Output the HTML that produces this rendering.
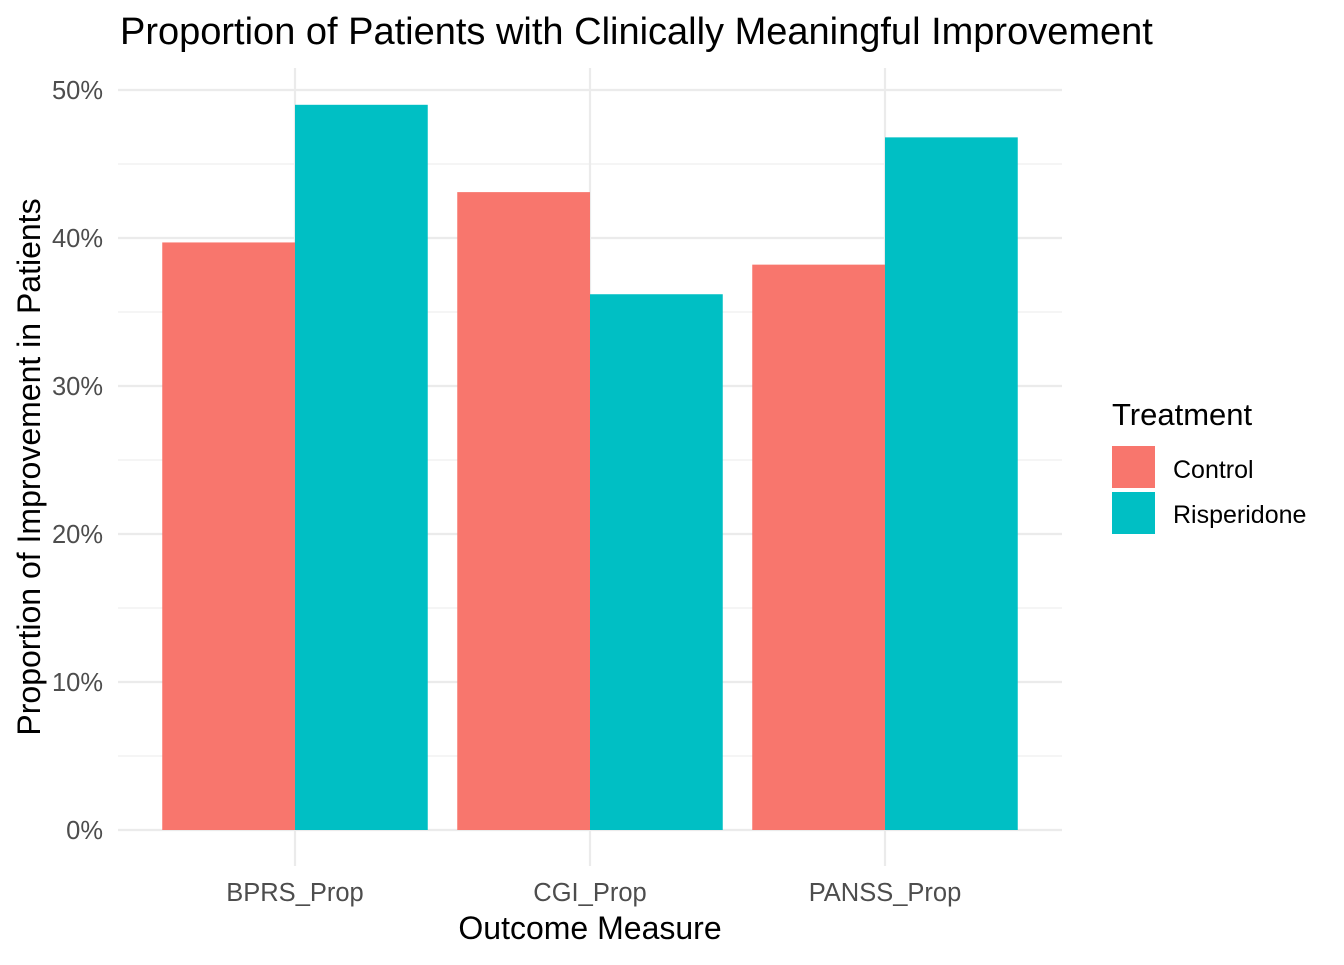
<!DOCTYPE html>
<html><head><meta charset="utf-8"><style>
body{margin:0;background:#fff;}
svg text{font-family:"Liberation Sans",Arial,sans-serif;}
</style></head><body>
<svg id="chart" width="1344" height="960" xmlns="http://www.w3.org/2000/svg">
<text x="120" y="44" font-size="38" fill="#000">Proportion of Patients with Clinically Meaningful Improvement</text>
<g id="grid"></g>
<g id="bars"></g>
<g id="axes"></g>
<text x="590" y="939" font-size="32" text-anchor="middle" fill="#000">Outcome Measure</text>
<text transform="translate(40,467) rotate(-90)" font-size="32" text-anchor="middle" fill="#000">Proportion of Improvement in Patients</text>
<g>
<text x="1112" y="425" font-size="31" fill="#000">Treatment</text>
<g><rect x="1112" y="446" width="43" height="42" fill="#F8766D"/><text x="1173" y="478" font-size="25" fill="#000">Control</text></g>
<g><rect x="1112" y="492" width="43" height="42" fill="#00BFC4"/><text x="1173" y="523" font-size="25" fill="#000">Risperidone</text></g>
</g>
</svg>
<script>
const categories = ["BPRS_Prop","CGI_Prop","PANSS_Prop"];
const controlValues = [39.7, 43.1, 38.2];
const risperidoneValues = [49.0, 36.2, 46.8];
const yTicks = [0,10,20,30,40,50];
const yTickLabels = ["0%","10%","20%","30%","40%","50%"];

const NS="http://www.w3.org/2000/svg";
const plotL=118, plotR=1062, plotT=68, plotB=866;
const y = v => 830 - v*14.8;
const step = (plotR-plotL)/3.2;
const xc = i => plotL + step*(i+0.6);
const bw = step*0.45;
function mk(tag, attrs, parent){const e=document.createElementNS(NS,tag);for(const k in attrs)e.setAttribute(k,attrs[k]);parent.appendChild(e);return e;}
const grid=document.getElementById('grid'), bars=document.getElementById('bars'), axes=document.getElementById('axes');
yTicks.forEach((t,i)=>{
  const l=mk('line',{x1:plotL,x2:plotR,y1:y(t),y2:y(t),stroke:'#ebebeb','stroke-width':2.2},grid);
  
  
  if(i<yTicks.length-1){
    const m=mk('line',{x1:plotL,x2:plotR,y1:y(t+5),y2:y(t+5),stroke:'#ebebeb','stroke-width':1.1},grid);
    
    
  }
  const tx=mk('text',{x:103,y:y(t)+9,'font-size':25.5,'text-anchor':'end',fill:'#4d4d4d'},axes);
  tx.textContent=yTickLabels[i];
  
  
});
categories.forEach((c,i)=>{
  const g=mk('line',{x1:xc(i),x2:xc(i),y1:plotT,y2:plotB,stroke:'#ebebeb','stroke-width':2.2},grid);
  
  
  const b1=mk('rect',{x:xc(i)-bw,y:y(controlValues[i]),width:bw,height:y(0)-y(controlValues[i]),fill:'#F8766D'},bars);
  
  
  const b2=mk('rect',{x:xc(i),y:y(risperidoneValues[i]),width:bw,height:y(0)-y(risperidoneValues[i]),fill:'#00BFC4'},bars);
  
  
  const tx=mk('text',{x:xc(i),y:901,'font-size':25.5,'text-anchor':'middle',fill:'#4d4d4d'},axes);
  tx.textContent=c;
  
  
});
</script>
</body></html>
